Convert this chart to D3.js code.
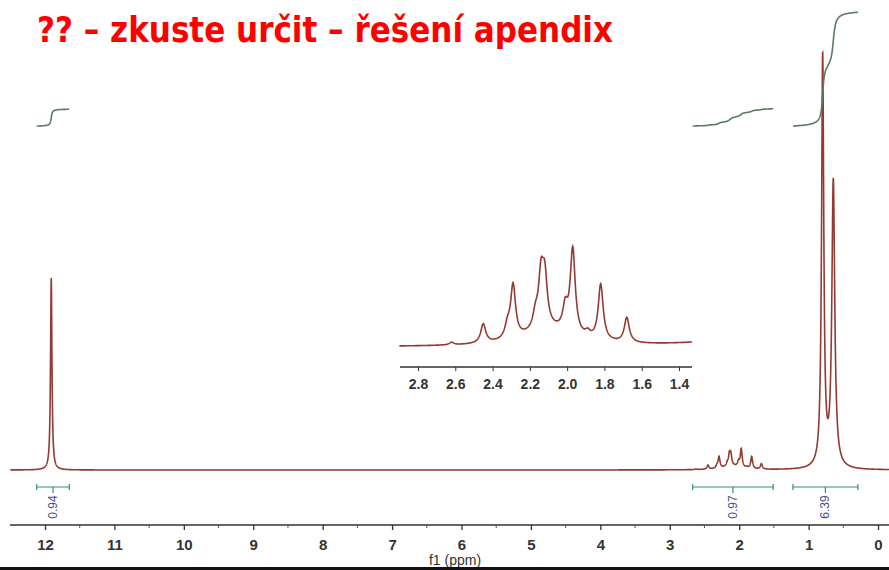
<!DOCTYPE html>
<html>
<head>
<meta charset="utf-8">
<script src="https://cdn.jsdelivr.net/npm/d3@7"></script>
<style>
  body { margin: 0; background: #fff; }
  svg { display: block; }
</style>
</head>
<body>
<svg id="chart" width="889" height="570"></svg>
<script>
// peaks of the spectrum: shift (ppm), height (intensity), half width (ppm)
var peakShift  = [11.91, 0.797, 0.644];
var peakHeight = [45.9, 98.3, 68.4];
var peakWidth  = [0.012, 0.019, 0.025];

// the multiplet around 2 ppm (shown in the inset)
var multShift  = [2.62, 2.45, 2.32, 2.29, 2.17, 2.14, 2.12, 2.01, 1.97, 1.89, 1.82, 1.68, 2.10];
var multHeight = [0.13, 0.98, 0.62, 2.72, 0.72, 2.57, 2.42, 1.18, 4.37, 0.26, 2.88, 1.28, 0.80];
var multWidth  = [0.014, 0.016, 0.016, 0.016, 0.016, 0.016, 0.016, 0.016, 0.016, 0.016, 0.016, 0.016, 0.16];

// integrals: region start, region end (ppm), value
var intFrom  = [12.12, 2.67, 1.225];
var intTo    = [11.65, 1.51, 0.29];
var intValue = [0.94, 0.97, 6.39];

var mainTicks  = [12, 11, 10, 9, 8, 7, 6, 5, 4, 3, 2, 1, 0];
var insetTicks = [2.8, 2.6, 2.4, 2.2, 2.0, 1.8, 1.6, 1.4];

var titleText = "?? \u2013 zkuste ur\u010dit \u2013 \u0159e\u0161en\u00ed apendix";

var svg = d3.select("#chart"),
    lineColor = "#933a33",
    intColor = "#5d7a62",
    barColor = "#2f8f77",
    labelColor = "#4b4f99";

var x = d3.scaleLinear().domain([12, 0]).range([45, 878]),
    y = d3.scaleLinear().domain([0, 100]).range([470, 52]),
    xi = d3.scaleLinear().domain([2.8, 1.4]).range([418, 679]),
    yi = d3.scaleLinear().domain([0, 5.19]).range([347, 246]);

var allShift = peakShift.concat(multShift),
    allHeight = peakHeight.concat(multHeight),
    allWidth = peakWidth.concat(multWidth);

function intensity(ppm) {
    var s = 0;
    for (var i = 0; i < allShift.length; i++) {
        var d = (ppm - allShift[i]) / allWidth[i];
        s += allHeight[i] / (1 + d * d);
    }
    return s;
}

function sample(from, to, step) {
    var pts = [];
    for (var p = from; p >= to; p -= step) {
        pts.push([p, intensity(p)]);
    }
    return pts;
}

// title
svg.append("text")
    .attr("x", 37)
    .attr("y", 42)
    .attr("font-family", "Liberation Sans Narrow, DejaVu Sans Condensed, Liberation Sans, sans-serif")
    .attr("font-weight", "bold")
    .attr("font-size", 36)
    .attr("fill", "#ff0000")
    .attr("textLength", 576)
    .attr("lengthAdjust", "spacingAndGlyphs")
    .text(titleText);

// main spectrum
var mainPts = sample(12.5, -0.17, 0.002);
svg.append("path")
    .datum(mainPts)
    .attr("fill", "none")
    .attr("stroke", lineColor)
    .attr("stroke-width", 1.6)
    .attr("d", d3.line().x(function(d) { return x(d[0]); }).y(function(d) { return y(d[1]); }));

// integral curves and bars
var intScale = 17.8, intBase = 126, barY = 487;
intFrom.forEach(function(from, k) {
    var pts = sample(from, intTo[k], 0.002);
    var cum = [], total = 0;
    for (var i = 0; i < pts.length; i++) {
        if (i > 0) total += (pts[i][1] + pts[i - 1][1]) / 2;
        cum.push([pts[i][0], total]);
    }
    svg.append("path")
        .datum(cum)
        .attr("fill", "none")
        .attr("stroke", intColor)
        .attr("stroke-width", 1.6)
        .attr("d", d3.line()
            .x(function(d) { return x(d[0]); })
            .y(function(d) { return intBase - d[1] / total * intValue[k] * intScale; }));

    var x0 = x(from), x1 = x(intTo[k]), xm = (x0 + x1) / 2;
    var g = svg.append("g").attr("stroke", barColor).attr("stroke-width", 1.2);
    g.append("line").attr("x1", x0).attr("x2", x1).attr("y1", barY).attr("y2", barY);
    g.append("line").attr("x1", x0).attr("x2", x0).attr("y1", barY - 3).attr("y2", barY + 3);
    g.append("line").attr("x1", x1).attr("x2", x1).attr("y1", barY - 3).attr("y2", barY + 3);
    g.append("line").attr("x1", xm).attr("x2", xm).attr("y1", barY).attr("y2", barY + 6);

    svg.append("text")
        .attr("transform", "translate(" + (xm + 4) + "," + 507 + ") rotate(-90)")
        .attr("text-anchor", "middle")
        .attr("font-family", "Liberation Sans, Arial, sans-serif")
        .attr("font-size", 12)
        .attr("fill", labelColor)
        .text(intValue[k].toFixed(2));
});

// main axis
var axis = svg.append("g")
    .attr("transform", "translate(0,525)")
    .call(d3.axisBottom(x).tickValues(mainTicks).tickSize(5).tickPadding(9).tickFormat(d3.format("d")));
axis.select(".domain").attr("d", "M10,0H889").attr("stroke", "#333").attr("stroke-width", 1.5);
axis.selectAll(".tick line").attr("stroke", "#333").attr("stroke-width", 1.3);
axis.selectAll(".tick text")
    .attr("font-family", "Liberation Sans, Arial, sans-serif")
    .attr("font-weight", "bold")
    .attr("font-size", 15)
    .attr("fill", "#333");
var minor = d3.range(-0.5, 12.5, 1);
axis.selectAll(".minor").data(minor).enter().append("line")
    .attr("x1", function(d) { return x(d); })
    .attr("x2", function(d) { return x(d); })
    .attr("y1", 0).attr("y2", 3)
    .attr("stroke", "#555");

svg.append("text")
    .attr("x", 455)
    .attr("y", 565)
    .attr("text-anchor", "middle")
    .attr("font-family", "Liberation Sans, Arial, sans-serif")
    .attr("font-size", 14)
    .attr("fill", "#333")
    .text("f1 (ppm)");

// inset
var insetPts = sample(2.9, 1.33, 0.002);
svg.append("path")
    .datum(insetPts)
    .attr("fill", "none")
    .attr("stroke", lineColor)
    .attr("stroke-width", 1.6)
    .attr("d", d3.line().x(function(d) { return xi(d[0]); }).y(function(d) { return yi(d[1]); }));

var iaxis = svg.append("g")
    .attr("transform", "translate(0,367)")
    .call(d3.axisBottom(xi).tickValues(insetTicks).tickSize(4).tickPadding(8).tickFormat(d3.format(".1f")));
iaxis.select(".domain").attr("d", "M400,0H692").attr("stroke", "#333").attr("stroke-width", 1.5);
iaxis.selectAll(".tick line").attr("stroke", "#333");
iaxis.selectAll(".tick text")
    .attr("font-family", "Liberation Sans, Arial, sans-serif")
    .attr("font-weight", "bold")
    .attr("font-size", 14)
    .attr("fill", "#333");

// dark strip at the bottom edge
svg.append("rect").attr("x", 0).attr("y", 567).attr("width", 889).attr("height", 3).attr("fill", "#111");
</script>
</body>
</html>
